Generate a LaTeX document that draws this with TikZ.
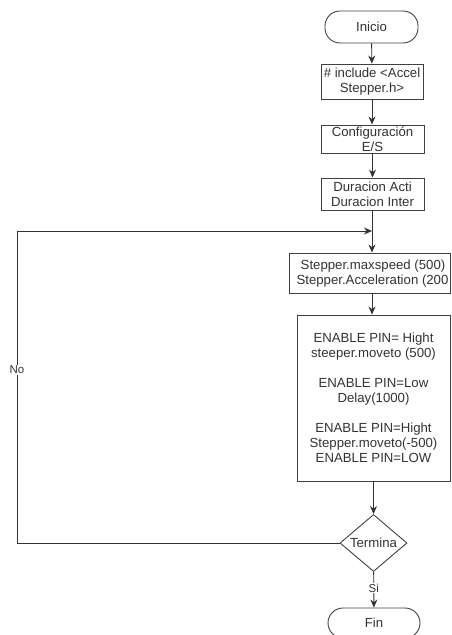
\documentclass[tikz,border=0pt]{standalone}
\usepackage{fontspec}
\setmainfont{Liberation Sans}
\usetikzlibrary{arrows.meta,shapes.geometric}
\begin{document}
\begin{tikzpicture}[x=1pt,y=-1pt,
  every node/.style={font=\fontsize{13.2}{15}\selectfont, text=black!80, inner sep=0pt, align=center},
  proc/.style={draw=black!75, line width=0.9pt, fill=white, rectangle},
  term/.style={draw=black!75, line width=0.9pt, fill=white, rectangle, rounded corners=15pt},
  decis/.style={draw=black!75, line width=0.9pt, fill=white, diamond, aspect=1.175},
  flow/.style={draw=black!80, line width=0.9pt, -{Stealth[length=8pt,width=7pt]}},
  lbl/.style={fill=white, font=\fontsize{11.5}{13}\selectfont, inner sep=1pt}]
\useasboundingbox (0,0) rectangle (451,635);

\node[term, minimum width=93pt, minimum height=32pt] (ini) at (371.5,27) {Inicio};
\node[proc, minimum width=102pt, minimum height=35pt] (inc) at (372,81.5) {\# include <Accel\\Stepper.h>};
\node[proc, minimum width=103pt, minimum height=28pt] (cfg) at (372.5,139) {Configuración\\E/S};
\node[proc, minimum width=103pt, minimum height=32pt] (dur) at (372.5,194) {Duracion Acti\\Duracion Inter};
\node[proc, minimum width=161pt, minimum height=40pt] (spd) at (369.5,273) {};
\node at (373,266) {Stepper.maxspeed (500)};
\node at (372.5,281) {Stepper.Acceleration (200};
\node[proc, minimum width=153pt, minimum height=166pt] (seq) at (373.5,398)
  {ENABLE PIN= Hight\\steeper.moveto (500)\\[15pt]ENABLE PIN=Low\\Delay(1000)\\[15pt]ENABLE PIN=Hight\\Stepper.moveto(-500)\\ENABLE PIN=LOW};
\node[decis, minimum width=67pt, minimum height=57pt] (ter) at (373.5,543) {Termina};
\node[term, minimum width=92pt, minimum height=30pt] (fin) at (374,623) {Fin};

\coordinate (join) at (372,231);
\coordinate (lowL) at (17,543);
\coordinate (upL) at (17,231);

\draw[flow] (ini) -- (inc);
\draw[flow] (inc) -- (inc |- cfg.north);
\draw[flow] (cfg) -- (cfg |- dur.north);
\draw[flow] (dur.south -| join) -- (join |- spd.north);
\draw[flow] (spd.south -| join) -- (join |- seq.north);
\draw[flow] (seq) -- (ter);
\draw[flow] (ter) -- node[lbl, pos=0.45] {Si} (fin);
\draw[flow] (ter.west) -- (lowL) -- node[lbl, pos=0.555] {No} (upL) -- (join);
\end{tikzpicture}
\end{document}
